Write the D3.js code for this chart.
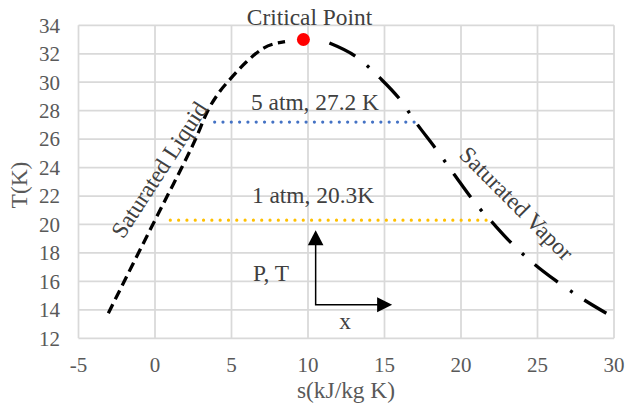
<!DOCTYPE html>
<html>
<head>
<meta charset="utf-8">
<script src="https://cdn.jsdelivr.net/npm/d3@7"></script>
<style>
  body { margin: 0; background: white; }
</style>
</head>
<body>
<script>
// saturated liquid line (s in kJ/kg K, T in K)
var liqS = [-3.05, -1.5, 0, 0.8, 1.75, 2.65, 3.45, 4.2, 4.9, 6.0, 7.1, 8.5];
var liqT = [13.76, 17.1, 20.3, 22.0, 24.0, 26.0, 28.0, 29.3, 30.2, 31.45, 32.4, 32.85];

// saturated vapor line
var vapS = [11.4, 13.2, 14.7, 16.0, 17.1, 18.3, 19.5, 21.2, 22.0, 23.2, 24.7, 26.2, 27.9, 29.5];
var vapT = [32.75, 31.75, 30.3, 28.8, 27.1, 25.4, 23.6, 21.15, 20.2, 18.8, 17.3, 16.05, 14.8, 13.76];

// critical point
var critS = 9.7;
var critT = 33.0;

// isobars: [s start, s end, T]
var isobar5 = [3.9, 17.0, 27.2];
var isobar1 = [1.0, 21.9, 20.3];

// P,T / x arrows: corner, top of vertical, end of horizontal
var arrowCorner = [10.5, 14.35];
var arrowUpT = 19.6;
var arrowRightS = 15.5;

var xTicks = [-5, 0, 5, 10, 15, 20, 25, 30];
var yTicks = [12, 14, 16, 18, 20, 22, 24, 26, 28, 30, 32, 34];

var W = 625, H = 415;
var FONT = "'Liberation Serif', 'Times New Roman', serif";
var x = d3.scaleLinear().domain([-5, 30]).range([78.5, 614]);
var y = d3.scaleLinear().domain([12, 34]).range([338.3, 25.3]);

var svg = d3.select("body").append("svg")
    .attr("width", W)
    .attr("height", H)
    .attr("font-family", FONT);
svg.append("rect").attr("width", W).attr("height", H).attr("fill", "white");

// gridlines
svg.append("g").selectAll("line").data(yTicks).enter().append("line")
    .attr("x1", x(-5)).attr("x2", x(30))
    .attr("y1", function(d) { return y(d); })
    .attr("y2", function(d) { return y(d); })
    .style("stroke", "#d9d9d9").style("stroke-width", 1.75);
svg.append("g").selectAll("line").data(xTicks).enter().append("line")
    .attr("y1", y(12)).attr("y2", y(34))
    .attr("x1", function(d) { return x(d); })
    .attr("x2", function(d) { return x(d); })
    .style("stroke", "#d9d9d9").style("stroke-width", 1.75);

// tick labels
svg.append("g").selectAll("text").data(yTicks).enter().append("text")
    .attr("x", 60)
    .attr("y", function(d) { return y(d); })
    .attr("dy", "0.35em")
    .attr("text-anchor", "end")
    .style("font-family", FONT)
    .style("font-size", "21px")
    .style("fill", "#595959")
    .text(function(d) { return d; });
svg.append("g").selectAll("text").data(xTicks).enter().append("text")
    .attr("x", function(d) { return x(d); })
    .attr("y", 372)
    .attr("text-anchor", "middle")
    .style("font-family", FONT)
    .style("font-size", "21px")
    .style("fill", "#595959")
    .text(function(d) { return d; });

// axis titles
svg.append("text")
    .attr("x", 346).attr("y", 398)
    .attr("text-anchor", "middle")
    .style("font-family", FONT)
    .style("font-size", "23.4px").style("fill", "#595959")
    .text("s(kJ/kg K)");
svg.append("text")
    .attr("transform", "translate(27,185) rotate(-90)")
    .attr("text-anchor", "middle")
    .style("font-family", FONT)
    .style("font-size", "23.4px").style("fill", "#595959")
    .text("T(K)");

// isobars
function draw_isobar(b, colour) {
    svg.append("line")
        .attr("x1", x(b[0])).attr("x2", x(b[1]))
        .attr("y1", y(b[2])).attr("y2", y(b[2]))
        .style("stroke", colour)
        .style("stroke-width", 3.2)
        .style("stroke-linecap", "round")
        .style("stroke-dasharray", "0.01,8.3");
}
draw_isobar(isobar5, "#4472c4");
draw_isobar(isobar1, "#ffc000");

// saturation curves
var line = d3.line()
    .x(function(d) { return x(d[0]); })
    .y(function(d) { return y(d[1]); })
    .curve(d3.curveMonotoneX);

svg.append("path")
    .attr("d", line(d3.zip(liqS, liqT)))
    .style("fill", "none")
    .style("stroke", "black")
    .style("stroke-width", 3.3)
    .style("stroke-dasharray", "10,5.5");

svg.append("path")
    .attr("d", line(d3.zip(vapS, vapT)))
    .style("fill", "none")
    .style("stroke", "black")
    .style("stroke-width", 3.3)
    .style("stroke-dasharray", "29,15,3,14");

// critical point
svg.append("circle")
    .attr("cx", x(critS)).attr("cy", y(critT))
    .attr("r", 6.5)
    .style("fill", "#ff0000");

// P,T arrows
var cx0 = x(arrowCorner[0]), cy0 = y(arrowCorner[1]);
var yUp = y(arrowUpT), xRight = x(arrowRightS);
svg.append("path")
    .attr("d", "M" + cx0 + "," + (yUp + 14) + "V" + cy0 + "H" + (xRight - 14))
    .style("fill", "none").style("stroke", "black").style("stroke-width", 1.5);
svg.append("path")
    .attr("d", "M" + cx0 + "," + yUp + "L" + (cx0 - 7.8) + "," + (yUp + 15) + "L" + (cx0 + 7.8) + "," + (yUp + 15) + "Z")
    .style("fill", "black");
svg.append("path")
    .attr("d", "M" + xRight + "," + cy0 + "L" + (xRight - 15) + "," + (cy0 - 7.5) + "L" + (xRight - 15) + "," + (cy0 + 7.5) + "Z")
    .style("fill", "black");

// annotations
function label(txt, tx, ty, rot) {
    svg.append("text")
        .attr("transform", "translate(" + tx + "," + ty + ")" + (rot ? " rotate(" + rot + ")" : ""))
        .attr("text-anchor", "middle")
        .style("font-family", FONT)
        .style("font-size", "23.4px")
        .style("fill", "#404040")
        .text(txt);
}
label("Critical Point", 309.5, 25);
label("5 atm, 27.2 K", 315, 110);
label("1 atm, 20.3K", 313, 203);
label("P, T", 271, 281);
label("x", 345, 329);
label("Saturated Liquid", 166, 174, -57);
label("Saturated Vapor", 511, 209, 45);
</script>
</body>
</html>
